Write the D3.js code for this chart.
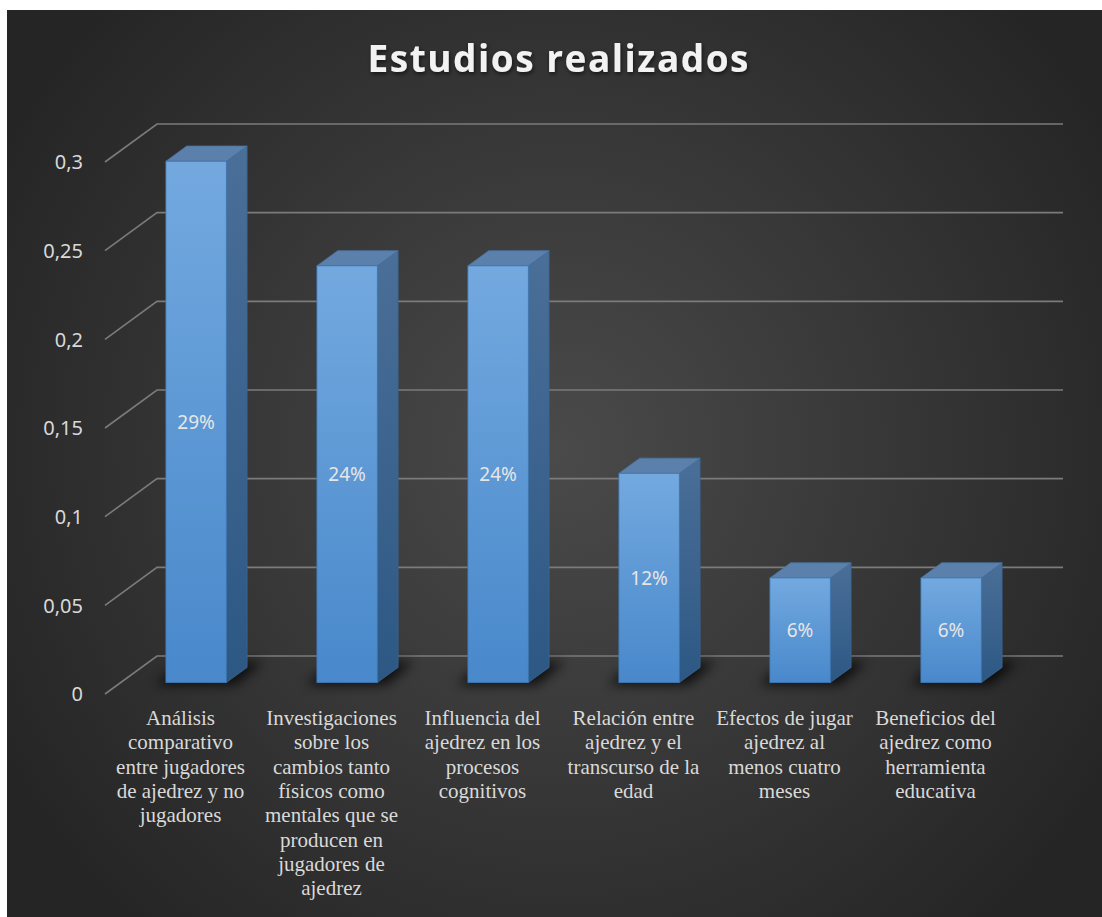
<!DOCTYPE html>
<html>
<head>
<meta charset="utf-8">
<script src="https://cdn.jsdelivr.net/npm/d3@7"></script>
<style>
  body { margin: 0; background: #ffffff; }
</style>
</head>
<body>
<svg id="graph1"></svg>
<script>
// data
var categories = [
    "Análisis\ncomparativo\nentre jugadores\nde ajedrez y no\njugadores",
    "Investigaciones\nsobre los\ncambios tanto\nfísicos como\nmentales que se\nproducen en\njugadores de\najedrez",
    "Influencia del\najedrez en los\nprocesos\ncognitivos",
    "Relación entre\najedrez y el\ntranscurso de la\nedad",
    "Efectos de jugar\najedrez al\nmenos cuatro\nmeses",
    "Beneficios del\najedrez como\nherramienta\neducativa"
]
var values = [0.294, 0.235, 0.235, 0.118, 0.059, 0.059]
var valueLabels = ["29%", "24%", "24%", "12%", "6%", "6%"]
var yTicks = [0, 0.05, 0.1, 0.15, 0.2, 0.25, 0.3]
var yTickLabels = ["0", "0,05", "0,1", "0,15", "0,2", "0,25", "0,3"]
var title = "Estudios realizados"

var screen = {width: 1102, height: 917}
// oblique depth of the floor (front edge -> back wall)
var depth = {dx: 52, dy: -38}
var barZ = {front: 0.3, back: 0.7}

var svg = d3.select("#graph1")
    .attr("width", screen.width)
    .attr("height", screen.height)

var defs = svg.append("defs")

var bg = defs.append("radialGradient")
    .attr("id", "bgGrad")
    .attr("gradientUnits", "userSpaceOnUse")
    .attr("cx", 560).attr("cy", 450).attr("r", 640)
bg.append("stop").attr("offset", "0%").attr("stop-color", "#4a4a4a")
bg.append("stop").attr("offset", "100%").attr("stop-color", "#252525")

var frontGrad = defs.append("linearGradient")
    .attr("id", "frontGrad").attr("x1", 0).attr("y1", 0).attr("x2", 0).attr("y2", 1)
frontGrad.append("stop").attr("offset", "0%").attr("stop-color", "#73a9df")
frontGrad.append("stop").attr("offset", "100%").attr("stop-color", "#4888cb")

var sideGrad = defs.append("linearGradient")
    .attr("id", "sideGrad").attr("x1", 0).attr("y1", 0).attr("x2", 0).attr("y2", 1)
sideGrad.append("stop").attr("offset", "0%").attr("stop-color", "#4a6f98")
sideGrad.append("stop").attr("offset", "100%").attr("stop-color", "#2d5884")

defs.append("filter").attr("id", "shadowBlur")
    .attr("x", "-50%").attr("y", "-50%").attr("width", "200%").attr("height", "200%")
    .append("feGaussianBlur").attr("stdDeviation", 6)

var ts = defs.append("filter").attr("id", "titleShadow")
    .attr("x", "-10%").attr("y", "-30%").attr("width", "120%").attr("height", "160%")
ts.append("feDropShadow")
    .attr("dx", 1).attr("dy", 2).attr("stdDeviation", 2)
    .attr("flood-color", "#000").attr("flood-opacity", 0.6)

// chart area
svg.append("rect")
    .attr("x", 7).attr("y", 10)
    .attr("width", screen.width - 7).attr("height", screen.height - 10)
    .attr("fill", "url(#bgGrad)")

svg.append("text")
    .attr("x", 558).attr("y", 72)
    .attr("text-anchor", "middle")
    .attr("font-family", "'Open Sans', sans-serif")
    .attr("font-weight", "bold")
    .attr("font-size", 37)
    .attr("textLength", 381)
    .attr("lengthAdjust", "spacing")
    .attr("fill", "#f2f2f2")
    .attr("filter", "url(#titleShadow)")
    .text(title)

var xScale = d3.scaleBand()
    .domain(categories)
    .range([105, 1011])
    .paddingInner(0.6)
    .paddingOuter(0.3)

var yScale = d3.scaleLinear()
    .domain([0, 0.3])
    .range([694, 162])

var px = function(x, z) { return x + z * depth.dx }
var py = function(v, z) { return yScale(v) + z * depth.dy }

// gridlines (side diagonal + back wall)
var grid = svg.append("g").attr("class", "grid")
grid.selectAll("path")
    .data(yTicks)
    .enter()
    .append("path")
    .attr("d", function(d) {
        return "M" + px(105, 0) + "," + py(d, 0) +
            "L" + px(105, 1) + "," + py(d, 1) +
            "L" + px(1011, 1) + "," + py(d, 1)
    })
    .attr("fill", "none")
    .attr("stroke", "#7b7b7b")
    .attr("stroke-width", 1.6)

svg.append("g")
    .selectAll("text")
    .data(yTicks)
    .enter()
    .append("text")
    .attr("x", 83)
    .attr("y", function(d) { return yScale(d) + 2 })
    .attr("text-anchor", "end")
    .attr("dominant-baseline", "middle")
    .attr("font-family", "'Noto Sans', sans-serif")
    .attr("font-size", 20)
    .attr("fill", "#d9d9d9")
    .text(function(d, i) { return yTickLabels[i] })

var data = categories.map(function(c, i) {
    return {cat: c, value: values[i], label: valueLabels[i]}
})
var bw = xScale.bandwidth()

// bar shadows on the floor
svg.append("g")
    .selectAll("path")
    .data(data)
    .enter()
    .append("path")
    .attr("d", function(d) {
        var x0 = xScale(d.cat) - 12, x1 = xScale(d.cat) + bw + 8
        var zf = barZ.front + 0.02, zb = barZ.back + 0.15
        return "M" + px(x0, zf) + "," + (py(0, zf) + 3) +
            "L" + px(x1, zf) + "," + (py(0, zf) + 3) +
            "L" + px(x1, zb) + "," + py(0, zb) +
            "L" + px(x0, zb) + "," + py(0, zb) + "Z"
    })
    .attr("fill", "#000")
    .attr("opacity", 0.75)
    .attr("filter", "url(#shadowBlur)")

var bars = svg.append("g")
    .selectAll("g")
    .data(data)
    .enter()
    .append("g")

// side face
bars.append("path")
    .attr("d", function(d) {
        var x = xScale(d.cat) + bw
        return "M" + px(x, barZ.front) + "," + py(0, barZ.front) +
            "L" + px(x, barZ.back) + "," + py(0, barZ.back) +
            "L" + px(x, barZ.back) + "," + py(d.value, barZ.back) +
            "L" + px(x, barZ.front) + "," + py(d.value, barZ.front) + "Z"
    })
    .attr("fill", "url(#sideGrad)")
    .attr("stroke", "#3a6592")
    .attr("stroke-width", 0.8)

// top face
bars.append("path")
    .attr("d", function(d) {
        var x0 = xScale(d.cat), x1 = xScale(d.cat) + bw
        return "M" + px(x0, barZ.front) + "," + py(d.value, barZ.front) +
            "L" + px(x1, barZ.front) + "," + py(d.value, barZ.front) +
            "L" + px(x1, barZ.back) + "," + py(d.value, barZ.back) +
            "L" + px(x0, barZ.back) + "," + py(d.value, barZ.back) + "Z"
    })
    .attr("fill", "#5a80ab")
    .attr("stroke", "#4a73a0")
    .attr("stroke-width", 0.8)

// front face
bars.append("rect")
    .attr("x", function(d) { return px(xScale(d.cat), barZ.front) })
    .attr("y", function(d) { return py(d.value, barZ.front) })
    .attr("width", bw)
    .attr("height", function(d) { return py(0, barZ.front) - py(d.value, barZ.front) })
    .attr("fill", "url(#frontGrad)")
    .attr("stroke", "#3f78b5")
    .attr("stroke-width", 0.8)

bars.append("text")
    .attr("x", function(d) { return px(xScale(d.cat), barZ.front) + bw / 2 })
    .attr("y", function(d) { return (py(0, barZ.front) + py(d.value, barZ.front)) / 2 + 2 })
    .attr("text-anchor", "middle")
    .attr("dominant-baseline", "middle")
    .attr("font-family", "'Noto Sans', sans-serif")
    .attr("font-size", 19)
    .attr("fill", "#e6e6e6")
    .text(function(d) { return d.label })

// category labels under the front edge
var catText = svg.append("g")
    .selectAll("text")
    .data(categories)
    .enter()
    .append("text")
    .attr("text-anchor", "middle")
    .attr("font-family", "'Liberation Serif', 'Times New Roman', serif")
    .attr("font-size", 21)
    .attr("fill", "#d9d9d9")

catText.selectAll("tspan")
    .data(function(d) {
        return d.split("\n").map(function(line) { return {line: line, cat: d} })
    })
    .enter()
    .append("tspan")
    .attr("x", function(d) { return xScale(d.cat) + bw / 2 })
    .attr("y", function(d, i) { return 725 + i * 24.3 })
    .text(function(d) { return d.line })
</script>
</body>
</html>
